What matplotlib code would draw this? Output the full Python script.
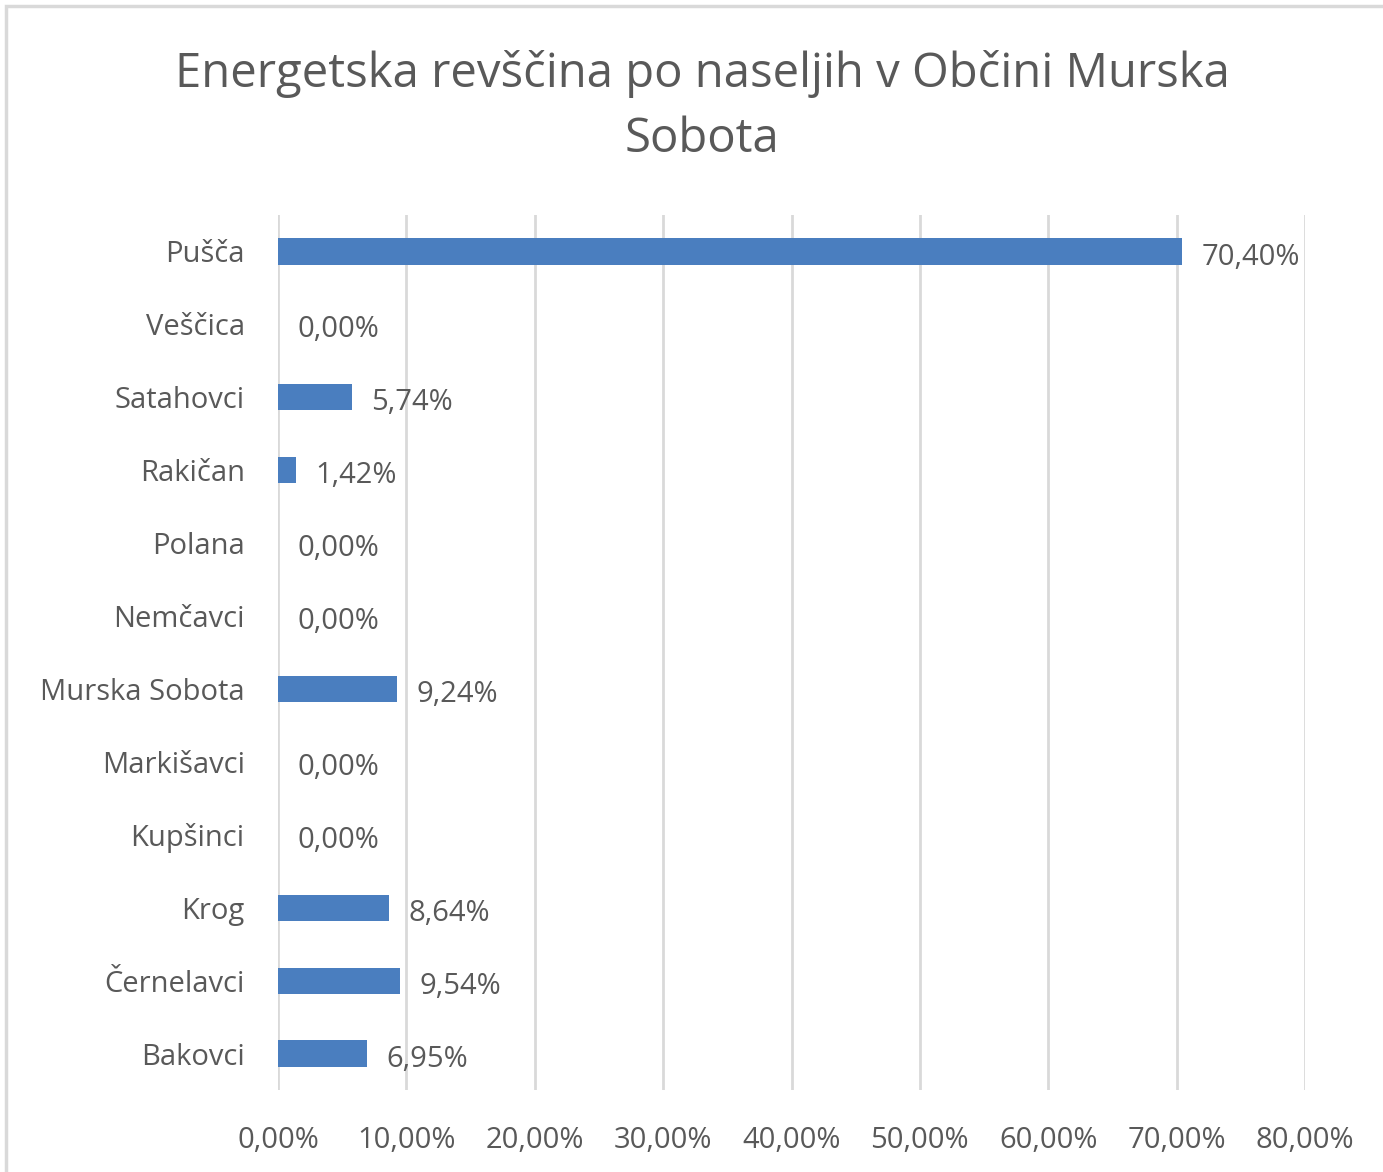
import matplotlib.pyplot as plt
from matplotlib.patches import Rectangle

# settlements, top to bottom as in the chart
naselja = ["Pušča", "Veščica", "Satahovci", "Rakičan", "Polana", "Nemčavci",
           "Murska Sobota", "Markišavci", "Kupšinci", "Krog", "Černelavci", "Bakovci"]
delez = [70.40, 0.00, 5.74, 1.42, 0.00, 0.00, 9.24, 0.00, 0.00, 8.64, 9.54, 6.95]
x_ticks = [0, 10, 20, 30, 40, 50, 60, 70, 80]

BLUE = "#4a7ebf"
TEXT = "#595959"
GRID = "#d9d9d9"


def fmt(v):
    return f"{v:.2f}%".replace(".", ",")


plt.rcParams['font.family'] = ['Open Sans', 'DejaVu Sans']

fig = plt.figure(figsize=(13.83, 11.72), dpi=100)
W, H = 1383, 1172

# light frame around the chart area (Excel style)
fig.patches.append(Rectangle((6 / W, -0.01), 1.05, 1 - 6 / H + 0.01, transform=fig.transFigure,
                             fill=False, edgecolor="#d9d9d9", linewidth=2.5))

ax = fig.add_axes([278 / W, 1 - 1090 / H, (1305 - 278) / W, (1090 - 215) / H])

y = list(range(len(naselja)))
ax.barh(y, delez, height=0.36, color=BLUE, zorder=3)

for yi, v in zip(y, delez):
    ax.annotate(fmt(v), (v, yi), xytext=(14, -4), textcoords="offset points",
                ha="left", va="center", fontsize=21, color=TEXT, zorder=4)

ax.set_xlim(0, 80)
ax.set_ylim(len(naselja) - 0.5, -0.5)
ax.set_xticks(x_ticks)
ax.set_xticklabels([fmt(t) for t in x_ticks])
ax.set_yticks(y)
ax.set_yticklabels(naselja)
ax.tick_params(axis="x", length=0, pad=26, labelsize=21, labelcolor=TEXT)
ax.tick_params(axis="y", length=0, pad=24, labelsize=21, labelcolor=TEXT)

ax.grid(axis="x", color=GRID, linewidth=2, zorder=0)
for s in ax.spines.values():
    s.set_visible(False)

fig.text(702 / W, 1 - 74 / H, "Energetska revščina po naseljih v Občini Murska",
         ha="center", va="center", fontsize=34, color=TEXT)
fig.text(702 / W, 1 - 139 / H, "Sobota", ha="center", va="center", fontsize=34, color=TEXT)

fig.savefig("out.png", dpi=100)
